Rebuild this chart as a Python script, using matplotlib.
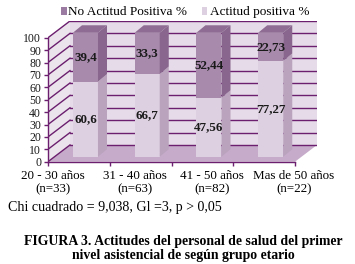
import matplotlib
matplotlib.use("Agg")
import matplotlib.pyplot as plt
from matplotlib.patches import Polygon, Rectangle

# data
categories = ["20 - 30 años\n(n=33)", "31 - 40 años\n(n=63)", "41 - 50 años\n(n=82)", "Mas de 50 años\n(n=22)"]
positiva = [60.6, 66.7, 47.56, 77.27]
no_positiva = [39.4, 33.3, 52.44, 22.73]
pos_labels = ["60,6", "66,7", "47,56", "77,27"]
neg_labels = ["39,4", "33,3", "52,44", "22,73"]

plt.rcParams['font.family'] = ['Liberation Serif', 'DejaVu Serif']

# colours
wall_c = '#E6DBE8'
side_wall_c = '#ECE4ED'
floor_c = '#C7ABCA'
grid_c = '#6B1F6E'
pos_front, pos_side = '#DDD0E1', '#B9A3BD'
neg_front, neg_side, neg_top = '#A78AAC', '#88668D', '#8E6C93'

# 3d look: depth offset of the wall (x in category units, y in value units)
DX, DY = 0.356, 13.5
W = 0.405             # bar width
FX, FY = 0.3 * DX, 0.3 * DY   # bar front face depth
BX, BY = 0.146, 6.0           # bar depth

fig = plt.figure(figsize=(3.55, 2.64), dpi=100)
ax = fig.add_axes([48 / 355, (264 - 161.7) / 264, (317 - 48) / 355, (161.7 - 21) / 264])
ax.set_xlim(0, len(categories) + DX)
ax.set_ylim(0, 100 + DY)
n = len(categories)

# walls and floor
ax.add_patch(Rectangle((DX, DY), n, 100, facecolor=wall_c, edgecolor='none', zorder=0))
ax.add_patch(Polygon([(0, 0), (0, 100), (DX, 100 + DY), (DX, DY)], facecolor=side_wall_c,
                     edgecolor='none', zorder=0))
ax.add_patch(Polygon([(0, 0), (n, 0), (n + DX, DY), (DX, DY)], facecolor=floor_c,
                     edgecolor='none', zorder=0))
for v in range(0, 101, 10):
    ax.plot([DX, n + DX], [v + DY, v + DY], color=grid_c, lw=1.0, zorder=1)
    ax.plot([0, DX], [v, v + DY], color=grid_c, lw=1.0, zorder=1)

# bars
for i in range(n):
    x0 = i + 0.5 - W / 2 + FX
    p, q = positiva[i], no_positiva[i]
    # positive (bottom)
    ax.add_patch(Rectangle((x0, FY), W, p, facecolor=pos_front, edgecolor='none', zorder=3))
    ax.add_patch(Polygon([(x0 + W, FY), (x0 + W + BX, FY + BY), (x0 + W + BX, FY + p + BY),
                          (x0 + W, FY + p)], facecolor=pos_side, edgecolor='none', zorder=3))
    # no positive (top)
    ax.add_patch(Rectangle((x0, FY + p), W, q, facecolor=neg_front, edgecolor='none', zorder=3))
    ax.add_patch(Polygon([(x0 + W, FY + p), (x0 + W + BX, FY + p + BY), (x0 + W + BX, FY + p + q + BY),
                          (x0 + W, FY + p + q)], facecolor=neg_side, edgecolor='none', zorder=3))
    ax.add_patch(Polygon([(x0, FY + p + q), (x0 + BX, FY + p + q + BY), (x0 + W + BX, FY + p + q + BY),
                          (x0 + W, FY + p + q)], facecolor=neg_top, edgecolor='none', zorder=3))
    ax.text(x0 + W / 2, FY + p / 2, pos_labels[i], ha='center', va='center',
            fontsize=9.4, fontweight='bold', color='#1a1a1a', zorder=4)
    ax.text(x0 + W / 2, FY + p + q / 2, neg_labels[i], ha='center', va='center',
            fontsize=9.4, fontweight='bold', color='#1a1a1a', zorder=4)

# axes
for s in ['top', 'right']:
    ax.spines[s].set_visible(False)
ax.spines['left'].set_bounds(0, 100)
ax.spines['bottom'].set_bounds(0, n)
ax.spines['left'].set_color(grid_c)
ax.spines['bottom'].set_color(grid_c)
ax.spines['left'].set_linewidth(1.0)
ax.spines['bottom'].set_linewidth(1.0)
ax.set_yticks(range(0, 101, 10))
ax.set_xticks(range(0, n + 1))
ax.set_xticklabels([])
ax.tick_params(axis='both', colors=grid_c, length=3, width=1.0, labelsize=8.5, pad=2)
ax.tick_params(axis='y', labelcolor='#1a1a1a')
ax.set_facecolor('none')

# category labels (spread like the original)
label_x = [0.08, 1.41, 2.65, 3.98]
for lx, lab in zip(label_x, categories):
    ax.text(lx, -7, lab, ha='center', va='top', fontsize=9.4, linespacing=1.15,
            transform=ax.transData, clip_on=False)

# legend
fig.patches.append(Rectangle((61 / 355, 1 - 15 / 264), 5.7 / 355, 8.3 / 264,
                             facecolor='#9C7BA2', transform=fig.transFigure))
fig.text(68 / 355, 1 - 12 / 264, "No Actitud Positiva %", ha='left', va='center', fontsize=9.5)
fig.patches.append(Rectangle((201.7 / 355, 1 - 15 / 264), 5.7 / 355, 8.3 / 264,
                             facecolor='#DDD0E1', transform=fig.transFigure))
fig.text(210 / 355, 1 - 12 / 264, "Actitud positiva %", ha='left', va='center', fontsize=9.5)

fig.text(8 / 355, 1 - 208 / 264, "Chi cuadrado = 9,038, Gl =3, p > 0,05", ha='left', va='center',
         fontsize=10.1)
fig.text(183.5 / 355, 1 - 248.5 / 264,
         "FIGURA 3. Actitudes del personal de salud del primer\nnivel asistencial de según grupo etario",
         ha='center', va='center', fontsize=9.9, fontweight='bold', linespacing=1.1)

fig.savefig("out.png", dpi=100)
